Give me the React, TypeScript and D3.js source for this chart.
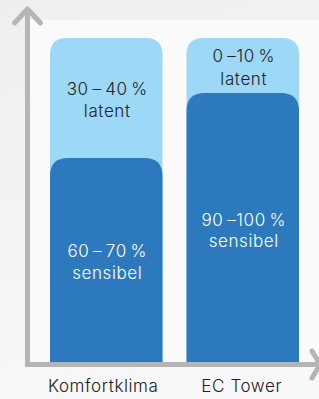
import React from "react";
import * as d3 from "d3";

const categories = ["Komfortklima", "EC Tower"];
const sensibleShare = [63, 83];
const latentShare = [37, 17];
const latentLabels = ["30\u2009–\u200940\u2009%", "0\u2009–10\u2009%"];
const sensibleLabels = ["60\u2009–\u200970\u2009%", "90\u2009–100\u2009%"];

const W = 319, H = 399;
const baseY = 362, topY = 38;
const axisX = 27.5, axisY = 364.5;

function roundTopPath(x: number, y: number, w: number, h: number, r: number) {
  const rr = Math.min(r, w / 2, h);
  return `M${x},${y + h}V${y + rr}Q${x},${y} ${x + rr},${y}H${x + w - rr}Q${x + w},${y} ${x + w},${y + rr}V${y + h}Z`;
}

export default function App() {
  const x = d3.scaleBand().domain(categories).range([50, 299]).paddingInner(0.176).paddingOuter(0);
  const y = d3.scaleLinear().domain([0, 100]).range([baseY, topY]);
  const font = "Inter, 'Open Sans', sans-serif";
  const cxOf = (i: number) => x(categories[i])! + x.bandwidth() / 2 + 1;
  return (
    <svg width={W} height={H} style={{ position: "absolute", left: 0, top: 0 }}>
      <defs>
        <linearGradient id="bg" x1="0" y1="0" x2="0.3" y2="1">
          <stop offset="0" stopColor="#eeeeee" />
          <stop offset="1" stopColor="#f8f8f8" />
        </linearGradient>
      </defs>
      <rect width={W} height={H} fill="url(#bg)" />
      <rect x={axisX} y={20} width={W - axisX} height={axisY - 20} fill="#fafafa" />
      {categories.map((c, i) => {
        const bx = x(c)!;
        const bw = x.bandwidth();
        const yTop = y(sensibleShare[i] + latentShare[i]);
        const yMid = y(sensibleShare[i]);
        return (
          <g key={c}>
            <path d={roundTopPath(bx, yTop, bw, baseY - yTop, 17)} fill="#9dd8f7" />
            <path d={roundTopPath(bx, yMid, bw, baseY - yMid, 18)} fill="#2d79be" />
          </g>
        );
      })}
      <g fontFamily={font} fontSize={17} fontWeight={300} textAnchor="middle" letterSpacing={0.6}>
        <text x={cxOf(0)} y={95} fill="#222">{latentLabels[0]}</text>
        <text x={cxOf(0)} y={117} fill="#222">latent</text>
        <text x={cxOf(1)} y={62} fill="#222">{latentLabels[1]}</text>
        <text x={cxOf(1)} y={85} fill="#222">latent</text>
        <text x={cxOf(0)} y={257} fill="#fff">{sensibleLabels[0]}</text>
        <text x={cxOf(0)} y={279} fill="#fff">sensibel</text>
        <text x={cxOf(1)} y={226} fill="#fff">{sensibleLabels[1]}</text>
        <text x={cxOf(1)} y={247} fill="#fff">sensibel</text>
        {categories.map((c, i) => (
          <text key={c} x={cxOf(i) - (i === 0 ? 4 : 2)} y={392} fill="#222">{c}</text>
        ))}
      </g>
      <g stroke="#b5b5b5" strokeWidth={5} fill="none" strokeLinecap="round" strokeLinejoin="round">
        <path d={`M${axisX},${axisY}V9`} strokeLinecap="butt" />
        <path d={`M${axisX - 13},${23}L${axisX},${9}L${axisX + 13},${23}`} />
        <path d={`M${axisX - 2.5},${axisY}H318`} strokeLinecap="butt" />
        <path d={`M${312},${351}L${320},${axisY}L${312},${378}`} />
      </g>
    </svg>
  );
}
